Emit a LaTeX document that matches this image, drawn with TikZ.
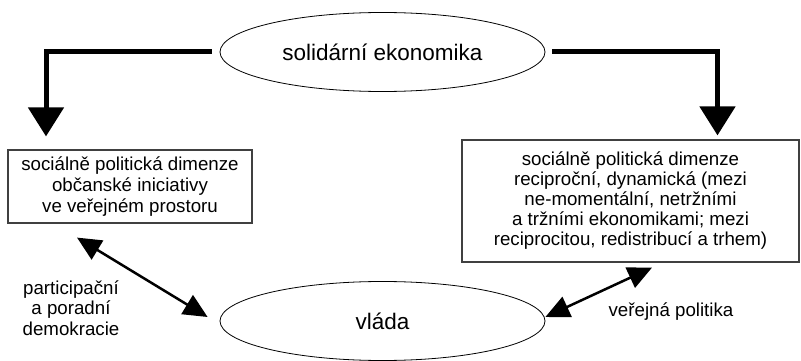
\documentclass[tikz,border=0pt]{standalone}
\usepackage{fontspec}
\setmainfont{Liberation Sans}
\usetikzlibrary{shapes.geometric,arrows.meta}
\begin{document}
\begin{tikzpicture}[x=1pt,y=-1pt,
  ell/.style={draw,ellipse,line width=0.8pt,minimum width=325pt,minimum height=79pt,inner sep=0pt,font=\fontsize{22.5}{24}\selectfont},
  box/.style={draw=black!75,line width=1.2pt,inner sep=0pt,align=center,font=\fontsize{18.7}{20.5}\selectfont},
  lbl/.style={align=center,font=\fontsize{18.7}{20.5}\selectfont},
  bigarrow/.style={line width=5pt,-{Triangle[length=29pt,width=35pt]}},
  dblarrow/.style={line width=2.5pt,{Triangle[length=24pt,width=22pt]}-{Triangle[length=24pt,width=22pt]}}]
\useasboundingbox (0,0) rectangle (801,361);
\node[ell] (top) at (382.5,52) {solidární ekonomika};
\node[ell] (bot) at (382.5,321) {vláda};
\node[box,minimum width=244pt,minimum height=73pt,font=\fontsize{18.7}{21}\selectfont] (lbox) at (130,186.5)
  {sociálně politická dimenze\\občanské iniciativy\\ve veřejném prostoru};
\node[box,minimum width=337pt,minimum height=122pt,font=\fontsize{18.7}{20}\selectfont] (rbox) at (630.5,201)
  {sociálně politická dimenze\\reciproční, dynamická (mezi\\ne-momentální, netržními\\a tržními ekonomikami; mezi\\reciprocitou, redistribucí a trhem)};
\node[lbl] (ldem) at (71,308) {participační\\a poradní\\demokracie};
\node[lbl] (lpol) at (671,312) {veřejná politika};
\draw[bigarrow] ([xshift=-8pt]top.west) -| ([xshift=-84pt,yshift=13pt]lbox.north);
\draw[bigarrow] ([xshift=7pt]top.east) -| ([xshift=87pt,yshift=4pt]rbox.north);
\draw[dblarrow] ([xshift=-53pt,yshift=-14pt]lbox.south) -- ([xshift=-12pt,yshift=4pt]bot.west);
\draw[dblarrow] ([yshift=4pt]bot.east) -- ([xshift=21.5pt,yshift=-5pt]rbox.south);
\end{tikzpicture}
\end{document}
